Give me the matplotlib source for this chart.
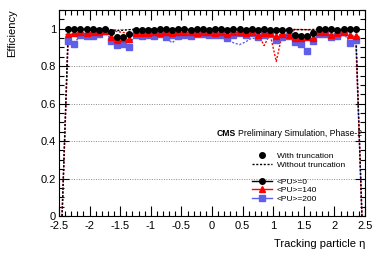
import numpy as np
import matplotlib
matplotlib.use("Agg")
import matplotlib.pyplot as plt
from matplotlib.lines import Line2D
from matplotlib.ticker import MultipleLocator

plt.rcParams['font.family'] = ['Liberation Sans', 'DejaVu Sans']

# eta bin centres (bins of 0.1), markers drawn for |eta| < 2.4
eta = np.round(np.arange(-2.35, 2.36, 0.1), 2)
# the "without truncation" curves also have the outer bins (zero efficiency)
eta_full = np.round(np.arange(-2.45, 2.46, 0.1), 2)

# with truncation
pu0 = [0.996, 0.996, 0.996, 0.996, 0.996, 0.995, 0.996, 0.985, 0.955, 0.958,
       0.970, 0.993, 0.994, 0.995, 0.995, 0.996, 0.996, 0.995, 0.996, 0.996,
       0.995, 0.996, 0.996, 0.995, 0.996, 0.996, 0.995, 0.996, 0.996, 0.995,
       0.996, 0.995, 0.996, 0.995, 0.993, 0.992, 0.994, 0.965, 0.962, 0.962,
       0.975, 0.996, 0.996, 0.996, 0.995, 0.996, 0.996, 0.996]
pu140 = [0.972, 0.975, 0.985, 0.978, 0.982, 0.985, 0.990, 0.955, 0.942, 0.950,
         0.945, 0.975, 0.978, 0.975, 0.980, 0.977, 0.982, 0.978, 0.983, 0.980,
         0.984, 0.978, 0.985, 0.980, 0.977, 0.982, 0.972, 0.980, 0.985, 0.975,
         0.982, 0.968, 0.975, 0.978, 0.960, 0.970, 0.968, 0.952, 0.948, 0.955,
         0.952, 0.982, 0.985, 0.965, 0.978, 0.985, 0.965, 0.962]
pu200 = [0.936, 0.920, 0.968, 0.962, 0.960, 0.971, 0.990, 0.932, 0.915, 0.920,
         0.902, 0.964, 0.960, 0.968, 0.962, 0.970, 0.958, 0.966, 0.960, 0.968,
         0.962, 0.970, 0.973, 0.964, 0.964, 0.968, 0.950, 0.968, 0.979, 0.964,
         0.975, 0.954, 0.964, 0.971, 0.939, 0.954, 0.959, 0.929, 0.920, 0.883,
         0.936, 0.971, 0.971, 0.954, 0.959, 0.982, 0.923, 0.941]

# without truncation
pu0_nt = [0.0, 0.998, 0.998, 0.998, 0.998, 0.998, 0.998, 0.998, 0.995, 0.990,
          0.992, 0.995, 0.998, 0.998, 0.998, 0.998, 0.998, 0.998, 0.998, 0.998,
          0.998, 0.998, 0.998, 0.998, 0.998, 0.998, 0.998, 0.998, 0.998, 0.998,
          0.998, 0.998, 0.998, 0.998, 0.998, 0.998, 0.998, 0.998, 0.996, 0.995,
          0.995, 0.996, 0.998, 0.998, 0.998, 0.998, 0.998, 0.998, 0.998, 0.0]
pu140_nt = [0.0, 0.965, 0.970, 0.982, 0.975, 0.980, 0.983, 0.988, 0.990, 0.985,
            0.980, 0.975, 0.972, 0.975, 0.972, 0.978, 0.975, 0.980, 0.975, 0.980,
            0.978, 0.982, 0.975, 0.982, 0.978, 0.975, 0.980, 0.970, 0.978, 0.982,
            0.972, 0.978, 0.975, 0.910, 0.970, 0.825, 0.975, 0.965, 0.995, 0.996,
            0.995, 0.990, 0.978, 0.982, 0.962, 0.975, 0.982, 0.960, 0.950, 0.0]
pu200_nt = [0.0, 0.930, 0.925, 0.962, 0.958, 0.955, 0.965, 0.985, 0.945, 0.930,
            0.935, 0.925, 0.955, 0.955, 0.960, 0.955, 0.962, 0.950, 0.925, 0.955,
            0.960, 0.955, 0.962, 0.965, 0.958, 0.960, 0.962, 0.945, 0.925, 0.915,
            0.930, 0.950, 0.945, 0.955, 0.962, 0.935, 0.950, 0.955, 0.930, 0.935,
            0.940, 0.945, 0.962, 0.965, 0.950, 0.955, 0.975, 0.930, 0.940, 0.0]

blue = '#5f5fe8'
red = '#ff0000'

fig = plt.figure(figsize=(3.82, 2.54), dpi=100)
ax = fig.add_axes([59 / 382, 1 - 216 / 254, 306 / 382, 206 / 254])

for y in [0.2, 0.4, 0.6, 0.8, 1.0]:
    ax.axhline(y, color='#888888', lw=0.7, ls=(0, (1, 1.5)), zorder=0)

dots = (0, (1.5, 1.2))
ax.plot(eta_full, pu200_nt, color=blue, lw=1, ls=dots, zorder=2)
ax.plot(eta_full, pu140_nt, color=red, lw=1, ls=dots, zorder=2)
ax.plot(eta_full, pu0_nt, color='black', lw=1, ls=dots, zorder=2)

ax.errorbar(eta, pu200, xerr=0.05, fmt='s', color=blue, ms=4.5, elinewidth=1, capsize=0, zorder=3)
ax.errorbar(eta, pu140, xerr=0.05, fmt='^', color=red, ms=4, elinewidth=1, capsize=0, zorder=4)
ax.errorbar(eta, pu0, xerr=0.05, fmt='o', color='black', ms=4, elinewidth=1, capsize=0, zorder=5)

ax.set_xlim(-2.5, 2.5)
ax.set_ylim(0, 1.1)
ax.xaxis.set_minor_locator(MultipleLocator(0.1))
ax.yaxis.set_minor_locator(MultipleLocator(0.05))
ax.set_xticks([-2.5, -2, -1.5, -1, -0.5, 0, 0.5, 1, 1.5, 2, 2.5])
ax.set_xticklabels(['-2.5', '-2', '-1.5', '-1', '-0.5', '0', '0.5', '1', '1.5', '2', '2.5'])
ax.set_yticks([0, 0.2, 0.4, 0.6, 0.8, 1])
ax.set_yticklabels(['0', '0.2', '0.4', '0.6', '0.8', '1'])
ax.tick_params(which='both', direction='in', top=True, right=True, labelsize=8, width=0.8, pad=2)
ax.tick_params(axis='x', which='major', pad=3.5)
ax.tick_params(which='major', length=7)
ax.tick_params(which='minor', length=3.5)
for s in ax.spines.values():
    s.set_linewidth(0.8)

fig.text(12 / 382, 1 - 9 / 254, 'Efficiency', rotation=90, ha='center', va='top', fontsize=8)
fig.text(365 / 382, 1 - 244 / 254, 'Tracking particle η', ha='right', va='center', fontsize=8)

# CMS label: right part anchored near the frame edge, "CMS" placed just left of it
prelim = fig.text(362 / 382, 1 - 133 / 254, 'Preliminary Simulation, Phase-2',
                  fontsize=6.2, ha='right', va='center')
fig.canvas.draw()
bb = prelim.get_window_extent()
fig.text((bb.x0 - 2) / 382, 1 - 133 / 254, 'CMS', fontweight='bold', fontsize=6.2,
         ha='right', va='center')

handles = [
    Line2D([], [], color='black', marker='o', ls='none', ms=4),
    Line2D([], [], color='black', ls=dots, lw=1),
    Line2D([], [], ls='none'),
    Line2D([], [], color='black', marker='o', ms=4, lw=1),
    Line2D([], [], color=red, marker='^', ms=4, lw=1),
    Line2D([], [], color=blue, marker='s', ms=4.5, lw=1),
]
labels = ['With truncation', 'Without truncation', ' ', '<PU>=0', '<PU>=140', '<PU>=200']
fig.legend(handles, labels, loc='upper left', bbox_to_anchor=(252 / 382, 1 - 152 / 254),
           bbox_transform=fig.transFigure, frameon=False, fontsize=6, labelspacing=0.05,
           handlelength=2.4, handletextpad=0.6, borderpad=0, borderaxespad=0, handleheight=0.8)

fig.savefig('out.png', dpi=100)
